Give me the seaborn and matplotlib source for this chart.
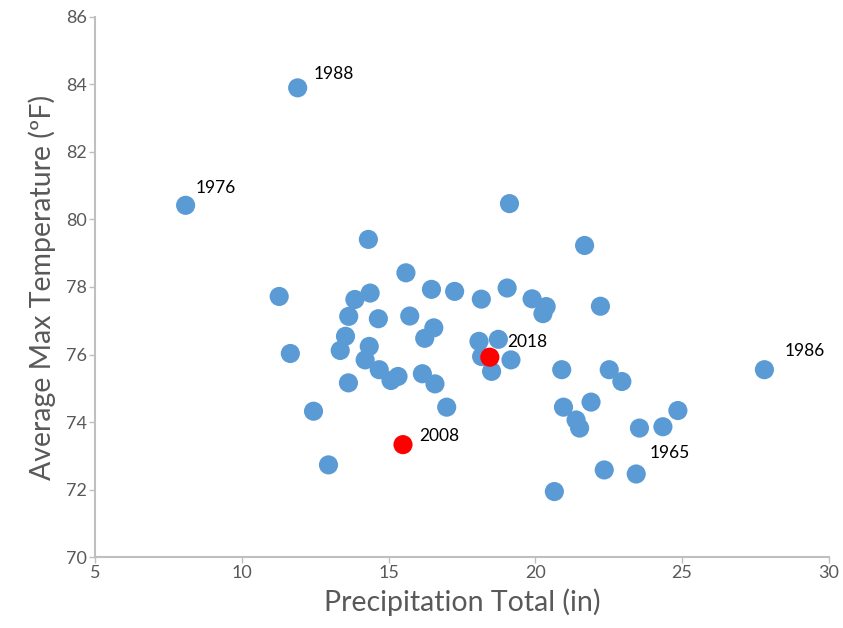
import pandas as pd
import seaborn as sns
import matplotlib.pyplot as plt

# Summer precipitation vs average max temperature, one point per year
precip = [11.90, 8.08, 19.12, 14.31, 21.68, 15.59, 11.27, 16.46, 17.25, 14.37,
          13.85, 18.16, 19.04, 19.89, 20.37, 20.26, 22.22, 13.64, 14.65, 15.72,
          16.54, 16.23, 13.53, 13.35, 14.34, 11.65, 18.08, 18.74, 18.17, 18.45,
          19.17, 18.51, 14.20, 14.68, 15.08, 15.32, 16.15, 16.58, 13.63, 16.98,
          12.44, 15.49, 12.95, 20.90, 22.52, 22.95, 20.96, 21.90, 21.39, 21.51,
          23.55, 24.35, 24.86, 22.35, 23.44, 20.65, 27.81]
temp = [83.90, 80.42, 80.47, 79.41, 79.23, 78.42, 77.72, 77.93, 77.87, 77.82,
        77.63, 77.64, 77.97, 77.65, 77.42, 77.21, 77.43, 77.13, 77.06, 77.14,
        76.79, 76.48, 76.54, 76.12, 76.24, 76.03, 76.39, 76.45, 75.94, 75.92,
        75.84, 75.50, 75.84, 75.55, 75.23, 75.35, 75.43, 75.13, 75.16, 74.44,
        74.32, 73.33, 72.73, 75.55, 75.55, 75.20, 74.44, 74.59, 74.06, 73.82,
        73.82, 73.86, 74.34, 72.58, 72.46, 71.94, 75.55]
labels = {0: '1988', 1: '1976', 29: '2018', 41: '2008', 54: '1965', 56: '1986'}
highlight = [29, 41]
label_offsets = {'1988': (16, 14), '1976': (10, 17), '2018': (17, 15),
                 '2008': (16, 9), '1965': (13, 21), '1986': (20, 19)}

df = pd.DataFrame({'precip': precip, 'temp': temp})
df['group'] = ['hi' if i in highlight else 'base' for i in range(len(df))]
df = df.sort_values('group', key=lambda s: s == 'hi', kind='stable')

sns.set_style('white')
plt.rcParams['font.family'] = ['Lato', 'DejaVu Sans']

fig = plt.figure(figsize=(8.43, 6.28), dpi=100)
ax = fig.add_axes([0.113, 0.113, 0.870, 0.860])

sns.scatterplot(data=df, x='precip', y='temp', hue='group',
                palette={'base': '#5B9BD5', 'hi': '#FF0000'},
                s=190, linewidth=0, legend=False, ax=ax)

for i, lab in labels.items():
    dx, dy = label_offsets[lab]
    ax.annotate(lab, (precip[i], temp[i]), xytext=(dx, dy),
                textcoords='offset pixels', fontsize=12.5, color='black',
                ha='left', va='center')

ax.set_xlim(5, 30)
ax.set_ylim(70, 86)
ax.set_xticks(range(5, 31, 5))
ax.set_yticks(range(70, 87, 2))

for side in ['top', 'right']:
    ax.spines[side].set_visible(False)
for side in ['left', 'bottom']:
    ax.spines[side].set_color('#BFBFBF')
    ax.spines[side].set_linewidth(1.5)

ax.tick_params(axis='both', which='major', direction='out', length=4,
               width=1, color='#BFBFBF', labelcolor='#595959',
               labelsize=13, pad=2, bottom=True, left=True)

ax.set_xlabel('Precipitation Total (in)', fontsize=20.5, color='#595959', labelpad=5)
ax.set_ylabel('Average Max Temperature (\u00baF)', fontsize=20.5, color='#595959', labelpad=7)

fig.savefig('out.png', dpi=100)
